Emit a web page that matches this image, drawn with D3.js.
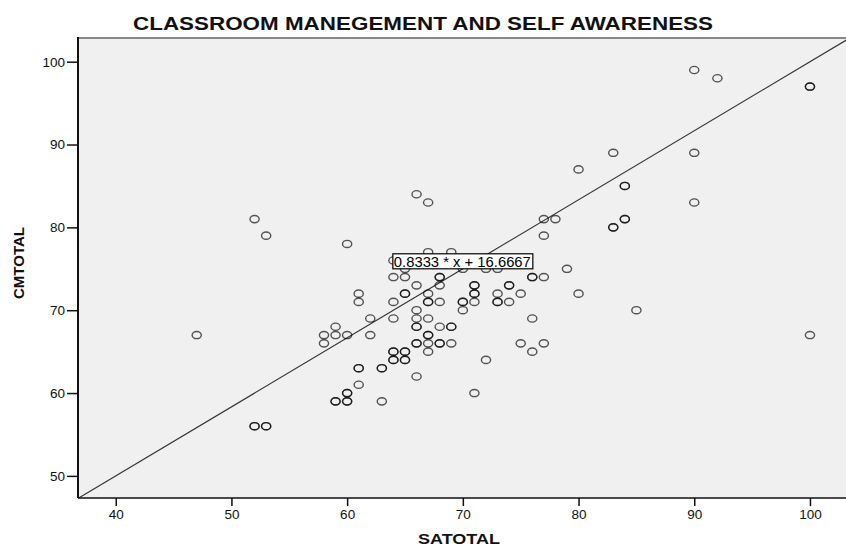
<!DOCTYPE html>
<html>

<head>
  <script src="https://d3js.org/d3.v7.min.js"></script>
  <style>
    body {
      margin: 0;
      background: #fff;
    }

    text {
      font-family: "Liberation Sans", Arial, sans-serif;
    }

    .tick text {
      font-size: 13.5px;
      fill: #111;
    }

    .tick line {
      stroke: #111;
      stroke-width: 1.5px;
    }

    .point {
      fill: none;
      stroke: #000;
      stroke-opacity: 0.66;
      stroke-width: 1.4px;
    }
  </style>
</head>

<body>
  <div id="chart"></div>
  <script type="text/javascript">
    // SATOTAL (x) and CMTOTAL (y), one entry per case; overlapping cases appear twice
    // each line of satotal matches the same line of cmtotal
    var satotal = [
      47,
      52, 52, 52,
      53, 53, 53,
      58, 58,
      59, 59, 59, 59,
      60, 60, 60, 60, 60, 60,
      61, 61, 61, 61, 61,
      62, 62,
      63, 63, 63,
      64, 64, 64, 64, 64, 64, 64, 64,
      65, 65, 65, 65, 65, 65, 65, 65,
      66, 66, 66, 66, 66, 66, 66, 66, 66,
      67, 67, 67, 67, 67, 67, 67, 67, 67, 67,
      68, 68, 68, 68, 68, 68, 68,
      69, 69, 69, 69,
      70, 70, 70, 70,
      71, 71, 71, 71, 71, 71,
      72, 72,
      73, 73, 73, 73,
      74, 74, 74,
      75, 75,
      76, 76, 76, 76,
      77, 77, 77, 77,
      78,
      79,
      80, 80,
      83, 83, 83,
      84, 84, 84, 84,
      85,
      90, 90, 90,
      92,
      100, 100, 100
    ];
    var cmtotal = [
      67,
      81, 56, 56,
      79, 56, 56,
      67, 66,
      68, 67, 59, 59,
      78, 67, 60, 60, 59, 59,
      72, 71, 63, 63, 61,
      69, 67,
      63, 63, 59,
      76, 74, 71, 69, 65, 65, 64, 64,
      75, 74, 72, 72, 65, 65, 64, 64,
      84, 73, 70, 69, 68, 68, 66, 66, 62,
      83, 77, 72, 71, 71, 69, 67, 67, 66, 65,
      74, 74, 73, 71, 68, 66, 66,
      77, 68, 68, 66,
      75, 71, 71, 70,
      73, 73, 72, 72, 71, 60,
      75, 64,
      75, 72, 71, 71,
      73, 73, 71,
      72, 66,
      74, 74, 69, 65,
      81, 79, 74, 66,
      81,
      75,
      87, 72,
      89, 80, 80,
      85, 85, 81, 81,
      70,
      99, 89, 83,
      98,
      97, 97, 67
    ];
    var xTicks = [40, 50, 60, 70, 80, 90, 100];
    var yTicks = [50, 60, 70, 80, 90, 100];
    var fitSlope = 0.8333;
    var fitIntercept = 16.6667;
    var fitLabel = "0.8333 * x + 16.6667";

    var points = satotal.map(function (d, i) {return {x: d, y: cmtotal[i]};});

    var svg = d3.select("#chart").append("svg")
      .attr("width", 846)
      .attr("height", 548);

    var plotLeft = 78, plotTop = 38, plotRight = 850, plotBottom = 498;

    var x = d3.scaleLinear().domain([36.74, 103.46]).range([plotLeft, plotRight]);
    var y = d3.scaleLinear().domain([47.33, 102.86]).range([plotBottom, plotTop]);

    svg.append("defs").append("clipPath")
      .attr("id", "plotclip")
      .append("rect")
      .attr("x", plotLeft)
      .attr("y", plotTop)
      .attr("width", plotRight - plotLeft)
      .attr("height", plotBottom - plotTop);

    // plot background
    svg.append("rect")
      .attr("x", plotLeft)
      .attr("y", plotTop)
      .attr("width", plotRight - plotLeft)
      .attr("height", plotBottom - plotTop)
      .attr("fill", "#f0f0f0");

    // fit line
    function fit(v) {return fitSlope * v + fitIntercept;}
    var xd = x.domain();
    svg.append("line")
      .attr("clip-path", "url(#plotclip)")
      .attr("x1", x(xd[0]))
      .attr("y1", y(fit(xd[0])))
      .attr("x2", x(xd[1]))
      .attr("y2", y(fit(xd[1])))
      .attr("stroke", "#333")
      .attr("stroke-width", 1.2);

    // points (stretched like the original picture)
    svg.append("g")
      .attr("clip-path", "url(#plotclip)")
      .selectAll("ellipse")
      .data(points)
      .enter().append("ellipse")
      .attr("class", "point")
      .attr("cx", function (d) {return x(d.x);})
      .attr("cy", function (d) {return y(d.y);})
      .attr("rx", 4.6)
      .attr("ry", 3.6);

    // fit label box, bottom centre sitting on the line at x = 70
    var lx = x(70), ly = y(fit(70));
    var lg = svg.append("g");
    lg.append("rect")
      .attr("x", lx - 70)
      .attr("y", ly - 15)
      .attr("width", 140)
      .attr("height", 15)
      .attr("fill", "#fff")
      .attr("stroke", "#000")
      .attr("stroke-width", 1.2);
    lg.append("text")
      .attr("x", lx - 69)
      .attr("y", ly - 2)
      .attr("font-size", "14.5px")
      .attr("textLength", 137)
      .attr("lengthAdjust", "spacingAndGlyphs")
      .attr("fill", "#000")
      .text(fitLabel);

    // axes
    var yAxis = svg.append("g")
      .attr("transform", "translate(" + plotLeft + ",0)")
      .call(d3.axisLeft(y).tickValues(yTicks).tickSize(11).tickPadding(2));
    yAxis.select(".domain").remove();

    var xAxis = svg.append("g")
      .attr("transform", "translate(0," + plotBottom + ")")
      .call(d3.axisBottom(x).tickValues(xTicks).tickSize(8).tickPadding(3));
    xAxis.select(".domain").remove();

    // frame
    svg.append("line")
      .attr("x1", plotLeft).attr("y1", plotTop)
      .attr("x2", plotRight).attr("y2", plotTop)
      .attr("stroke", "#888")
      .attr("stroke-width", 2);
    svg.append("line")
      .attr("x1", plotLeft).attr("y1", plotTop - 1)
      .attr("x2", plotLeft).attr("y2", plotBottom)
      .attr("stroke", "#111")
      .attr("stroke-width", 2);
    svg.append("line")
      .attr("x1", plotLeft).attr("y1", plotBottom)
      .attr("x2", plotRight).attr("y2", plotBottom)
      .attr("stroke", "#111")
      .attr("stroke-width", 1.5);

    // titles
    svg.append("text")
      .attr("x", 423)
      .attr("y", 30)
      .attr("text-anchor", "middle")
      .attr("font-size", "19px")
      .attr("font-weight", "bold")
      .attr("textLength", 580)
      .attr("lengthAdjust", "spacingAndGlyphs")
      .attr("fill", "#111")
      .text("CLASSROOM MANEGEMENT AND SELF AWARENESS");

    svg.append("text")
      .attr("x", 459)
      .attr("y", 544)
      .attr("text-anchor", "middle")
      .attr("font-size", "15px")
      .attr("font-weight", "bold")
      .attr("textLength", 82)
      .attr("lengthAdjust", "spacingAndGlyphs")
      .attr("fill", "#111")
      .text("SATOTAL");

    svg.append("text")
      .attr("transform", "translate(24,263) rotate(-90)")
      .attr("text-anchor", "middle")
      .attr("font-size", "15px")
      .attr("font-weight", "bold")
      .attr("fill", "#111")
      .text("CMTOTAL");
  </script>
</body>

</html>
